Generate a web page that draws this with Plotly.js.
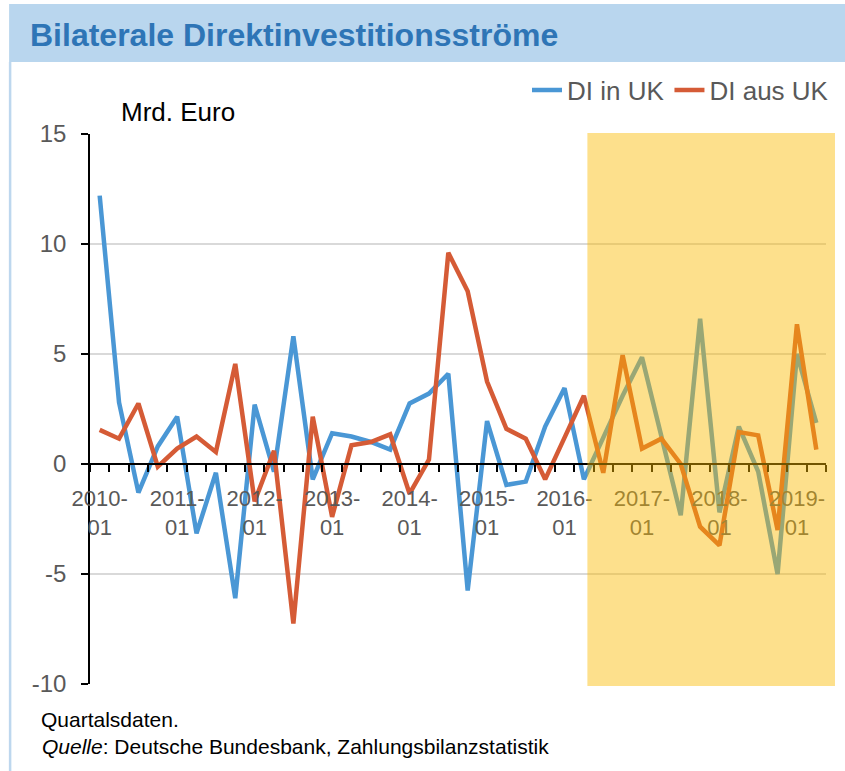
<!DOCTYPE html>
<html>
<head>
<meta charset="utf-8">
<script src="https://cdn.plot.ly/plotly-3.0.1.min.js"></script>
<style>
  html, body { margin: 0; padding: 0; background: #ffffff; }
  #chart { width: 845px; height: 771px; }
</style>
</head>
<body>
<div id="chart"></div>
<script>
// ---------- data ----------
const quarters = [
  "2010-01","2010-04","2010-07","2010-10",
  "2011-01","2011-04","2011-07","2011-10",
  "2012-01","2012-04","2012-07","2012-10",
  "2013-01","2013-04","2013-07","2013-10",
  "2014-01","2014-04","2014-07","2014-10",
  "2015-01","2015-04","2015-07","2015-10",
  "2016-01","2016-04","2016-07","2016-10",
  "2017-01","2017-04","2017-07","2017-10",
  "2018-01","2018-04","2018-07","2018-10",
  "2019-01","2019-04"
];
const diInUK = [
  12.2, 2.8, -1.3, 0.8,
  2.15, -3.15, -0.4, -6.1,
  2.7, -0.35, 5.8, -0.7,
  1.4, 1.25, 1.0, 0.65,
  2.75, 3.2, 4.1, -5.75,
  1.95, -0.95, -0.8, 1.7,
  3.45, -0.7, 1.2, 3.1,
  4.85, 1.3, -2.33, 6.6,
  -2.2, 1.7, -0.35, -5.0,
  5.0, 1.87
];
const diAusUK = [
  1.55, 1.15, 2.75, -0.12,
  0.7, 1.25, 0.55, 4.55,
  -1.7, 0.6, -7.25, 2.15,
  -2.4, 0.85, 1.0, 1.35,
  -1.35, 0.2, 9.6, 7.85,
  3.75, 1.6, 1.15, -0.7,
  1.2, 3.1, -0.4, 4.95,
  0.7, 1.15, 0.0, -2.85,
  -3.7, 1.45, 1.3, -3.0,
  6.35, 0.65
];
const tickQuarters = ["2010-01","2011-01","2012-01","2013-01","2014-01","2015-01","2016-01","2017-01","2018-01","2019-01"];
const tickLabels = ["2010-<br>01","2011-<br>01","2012-<br>01","2013-<br>01","2014-<br>01","2015-<br>01","2016-<br>01","2017-<br>01","2018-<br>01","2019-<br>01"];
const yTickVals = [-10, -5, 0, 5, 10, 15];
const yTickText = ["-10", "-5", "0", "5", "10", "15"];
const seriesNames = ["DI in UK", "DI aus UK"];
const shadeFrom = "2016-04";   // shaded period starts just after this quarter
const yRange = [-10, 15];

// ---------- layout helpers ----------
const W = 845, H = 771;
const M = {l: 90, r: 18, t: 134, b: 87};
const plotW = W - M.l - M.r, plotH = H - M.t - M.b;
const px = x => (x - M.l) / plotW;          // pixel x -> paper
const py = y => (H - M.b - y) / plotH;      // pixel y -> paper

const pos = quarters.map((q, i) => i);
const tickPos = tickQuarters.map(q => quarters.indexOf(q));
const shadeStartPaper = (quarters.indexOf(shadeFrom) + 0.5 + 0.18) / quarters.length;

const grey = "#595959";
const font = "Arial, 'Liberation Sans', sans-serif";

const traces = [
  {
    x: pos, y: diInUK, customdata: quarters, name: seriesNames[0],
    type: "scatter", mode: "lines",
    line: {color: "#4a97d5", width: 4.5},
    hovertemplate: "%{customdata}: %{y}<extra>" + seriesNames[0] + "</extra>"
  },
  {
    x: pos, y: diAusUK, customdata: quarters, name: seriesNames[1],
    type: "scatter", mode: "lines",
    line: {color: "#d55b36", width: 4.5},
    hovertemplate: "%{customdata}: %{y}<extra>" + seriesNames[1] + "</extra>"
  }
];

const layout = {
  width: W, height: H,
  margin: M,
  paper_bgcolor: "#ffffff",
  plot_bgcolor: "rgba(0,0,0,0)",
  font: {family: font, color: grey},
  title: {
    text: "<b>Bilaterale Direktinvestitionsströme</b>",
    xref: "container", yref: "container",
    x: 30 / W, xanchor: "left",
    y: 1 - 35 / H, yanchor: "middle",
    font: {family: font, size: 32, color: "#2e75b6"}
  },
  showlegend: true,
  legend: {
    orientation: "h",
    x: px(834), xanchor: "right",
    y: py(90), yanchor: "middle",
    font: {family: font, size: 26, color: grey},
    bgcolor: "rgba(0,0,0,0)",
    itemwidth: 30,
    traceorder: "normal"
  },
  xaxis: {
    type: "linear",
    range: [-0.5, quarters.length - 0.5],
    anchor: "free",
    position: -yRange[0] / (yRange[1] - yRange[0]),
    showline: true, linecolor: "#000000", linewidth: 1.5,
    showgrid: false, zeroline: false,
    tickmode: "array", tickvals: tickPos, ticktext: tickLabels,
    ticks: "", ticklabelstandoff: 15,
    tickfont: {family: font, size: 22, color: grey},
    minor: {ticks: "outside", ticklen: 7, tickwidth: 1.5, tickcolor: "#000000",
            tickmode: "linear", tick0: -0.5, dtick: 1, showgrid: false},
    fixedrange: true
  },
  yaxis: {
    range: yRange,
    tickmode: "array", tickvals: yTickVals, ticktext: yTickText,
    showline: true, linecolor: "#000000", linewidth: 1.5,
    ticks: "outside", ticklen: 7, tickwidth: 1.5, tickcolor: "#000000",
    ticklabelstandoff: 10,
    showgrid: true, gridcolor: "#d9d9d9", gridwidth: 1.5,
    zeroline: false,
    tickfont: {family: font, size: 24, color: grey},
    fixedrange: true
  },
  shapes: [
    // title band
    {type: "rect", xref: "paper", yref: "paper",
     x0: px(9), x1: px(W + 5), y0: py(62), y1: py(4),
     fillcolor: "#b9d6ee", line: {width: 0}, layer: "below"},
    // left frame line
    {type: "line", xref: "paper", yref: "paper",
     x0: px(10), x1: px(10), y0: py(62), y1: py(H + 5),
     line: {color: "#bdd7ee", width: 2.5}, layer: "below"},
    // shaded period overlay
    {type: "rect", xref: "paper", yref: "paper",
     x0: shadeStartPaper, x1: px(836), y0: py(686), y1: py(133),
     fillcolor: "rgba(250,187,0,0.45)", line: {width: 0}, layer: "above"}
  ],
  annotations: [
    {text: "Mrd. Euro", xref: "paper", yref: "paper",
     x: px(119), xanchor: "left", y: py(112), yanchor: "middle",
     showarrow: false, font: {family: font, size: 26, color: "#000000"}},
    {text: "Quartalsdaten.", xref: "paper", yref: "paper",
     x: px(39), xanchor: "left", y: py(719), yanchor: "middle",
     showarrow: false, font: {family: font, size: 21, color: "#000000"}},
    {text: "<i>Quelle</i>: Deutsche Bundesbank, Zahlungsbilanzstatistik", xref: "paper", yref: "paper",
     x: px(40), xanchor: "left", y: py(746), yanchor: "middle",
     showarrow: false, font: {family: font, size: 21, color: "#000000"}}
  ]
};

Plotly.newPlot("chart", traces, layout, {displayModeBar: false, responsive: false});
</script>
</body>
</html>
